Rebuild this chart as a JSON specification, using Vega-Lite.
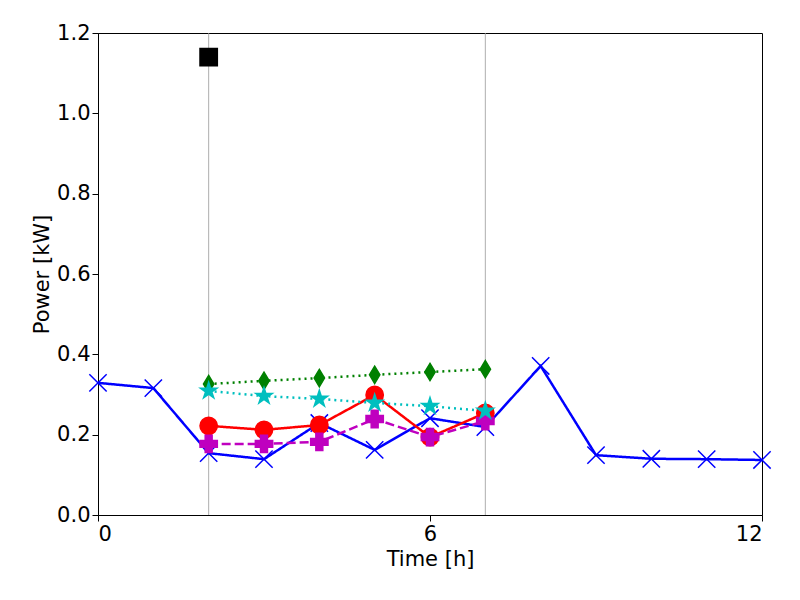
{
  "$schema": "https://vega.github.io/schema/vega-lite/v6.json",
  "autosize": "none",
  "width": 664,
  "height": 482,
  "padding": {"left": 98, "top": 33, "right": 38, "bottom": 85},
  "background": "white",
  "config": {
    "font": "DejaVu Sans",
    "view": {"stroke": "black", "strokeWidth": 1},
    "axis": {"grid": false, "labelFontSize": 21, "titleFontSize": 21, "titleFontWeight": "normal", "labelColor": "black", "titleColor": "black", "domainColor": "black", "tickColor": "black", "tickSize": 6, "labelFont": "DejaVu Sans", "titleFont": "DejaVu Sans"},
    "legend": {"title": null, "orient": "top-right", "offset": 8, "labelFontSize": 21, "labelColor": "black", "symbolSize": 300, "symbolStrokeWidth": 1.5, "rowPadding": 7, "padding": 8, "fillColor": "white", "strokeColor": "#cccccc", "cornerRadius": 4, "labelFont": "DejaVu Sans"}
  },
  "data": {"values": [
    {"s": "Observed data", "t": 0, "p": 0.329}, {"s": "Observed data", "t": 1, "p": 0.316},
    {"s": "Observed data", "t": 2, "p": 0.154}, {"s": "Observed data", "t": 3, "p": 0.139},
    {"s": "Observed data", "t": 4, "p": 0.229}, {"s": "Observed data", "t": 5, "p": 0.162},
    {"s": "Observed data", "t": 6, "p": 0.241}, {"s": "Observed data", "t": 7, "p": 0.219},
    {"s": "Observed data", "t": 8, "p": 0.371}, {"s": "Observed data", "t": 9, "p": 0.149},
    {"s": "Observed data", "t": 10, "p": 0.14}, {"s": "Observed data", "t": 11, "p": 0.139},
    {"s": "Observed data", "t": 12, "p": 0.137},
    {"s": "Joint AOD-AI", "t": 2, "p": 0.222}, {"s": "Joint AOD-AI", "t": 3, "p": 0.212},
    {"s": "Joint AOD-AI", "t": 4, "p": 0.224}, {"s": "Joint AOD-AI", "t": 5, "p": 0.299},
    {"s": "Joint AOD-AI", "t": 6, "p": 0.194}, {"s": "Joint AOD-AI", "t": 7, "p": 0.254},
    {"s": "OWA AOD-AI", "t": 2, "p": 0.177}, {"s": "OWA AOD-AI", "t": 3, "p": 0.177},
    {"s": "OWA AOD-AI", "t": 4, "p": 0.182}, {"s": "OWA AOD-AI", "t": 5, "p": 0.239},
    {"s": "OWA AOD-AI", "t": 6, "p": 0.194}, {"s": "OWA AOD-AI", "t": 7, "p": 0.234},
    {"s": "Linear AOD-AI", "t": 2, "p": 0.326}, {"s": "Linear AOD-AI", "t": 3, "p": 0.334},
    {"s": "Linear AOD-AI", "t": 4, "p": 0.341}, {"s": "Linear AOD-AI", "t": 5, "p": 0.349},
    {"s": "Linear AOD-AI", "t": 6, "p": 0.356}, {"s": "Linear AOD-AI", "t": 7, "p": 0.363},
    {"s": "Spline AOD-AI", "t": 2, "p": 0.309}, {"s": "Spline AOD-AI", "t": 3, "p": 0.296},
    {"s": "Spline AOD-AI", "t": 4, "p": 0.289}, {"s": "Spline AOD-AI", "t": 5, "p": 0.279},
    {"s": "Spline AOD-AI", "t": 6, "p": 0.271}, {"s": "Spline AOD-AI", "t": 7, "p": 0.259},
    {"s": "Outlier", "t": 2, "p": 1.14}
  ]},
  "layer": [
    {
      "data": {"values": [{"v": 2}, {"v": 7}]},
      "mark": {"type": "rule", "color": "#999999", "strokeWidth": 0.8},
      "encoding": {"x": {"field": "v", "type": "quantitative"}}
    },
    {
      "transform": [{"filter": "datum.s !== 'Outlier'"}],
      "mark": {"type": "line", "strokeWidth": 2.5},
      "encoding": {
        "x": {"field": "t", "type": "quantitative", "scale": {"domain": [0, 12]}, "axis": {"values": [0, 6, 12], "format": "d", "title": "Time [h]"}},
        "y": {"field": "p", "type": "quantitative", "scale": {"domain": [0, 1.2]}, "axis": {"values": [0, 0.2, 0.4, 0.6, 0.8, 1.0, 1.2], "format": ".1f", "title": "Power [kW]"}},
        "color": {"field": "s", "type": "nominal",
          "scale": {"domain": ["Observed data", "Joint AOD-AI", "OWA AOD-AI", "Linear AOD-AI", "Spline AOD-AI", "Outlier"], "range": ["#0000ff", "#ff0000", "#bf00bf", "#008000", "#00bfbf", "#000000"]}},
        "strokeDash": {"field": "s", "type": "nominal", "legend": null,
          "scale": {"domain": ["Observed data", "Joint AOD-AI", "OWA AOD-AI", "Linear AOD-AI", "Spline AOD-AI"], "range": [[1, 0], [1, 0], [9, 4], [2, 4], [2, 4]]}}
      }
    },
    {
      "mark": {"type": "point", "filled": true, "strokeWidth": 1.5, "opacity": 1},
      "encoding": {
        "x": {"field": "t", "type": "quantitative"},
        "y": {"field": "p", "type": "quantitative"},
        "size": {"value": 300},
        "color": {"field": "s", "type": "nominal"},
        "stroke": {"field": "s", "type": "nominal", "legend": null,
          "scale": {"domain": ["Observed data", "Joint AOD-AI", "OWA AOD-AI", "Linear AOD-AI", "Spline AOD-AI", "Outlier"], "range": ["#0000ff", "#ff0000", "#bf00bf", "#008000", "#00bfbf", "#000000"]}},
        "shape": {"field": "s", "type": "nominal",
          "scale": {"domain": ["Observed data", "Joint AOD-AI", "OWA AOD-AI", "Linear AOD-AI", "Spline AOD-AI", "Outlier"],
            "range": ["M-1,-1L1,1M-1,1L1,-1", "circle", "cross", "M0,-1L0.6,0L0,1L-0.6,0Z", "M0,-1L0.223,-0.307L0.951,-0.309L0.361,0.117L0.588,0.809L0,0.38L-0.588,0.809L-0.361,0.117L-0.951,-0.309L-0.223,-0.307Z", "square"]}}
      }
    }
  ]
}
